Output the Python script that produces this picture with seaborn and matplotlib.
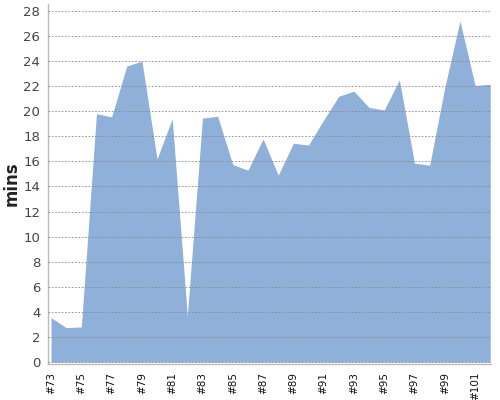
import matplotlib
matplotlib.use("Agg")
import matplotlib.pyplot as plt
import numpy as np
import pandas as pd
import seaborn as sns

episodes = [f"#{n}" for n in range(73, 103)]
minutes = [3.55, 2.75, 2.8, 19.8, 19.55, 23.6, 24.0, 16.2, 19.4, 3.7,
           19.45, 19.6, 15.75, 15.3, 17.8, 14.9, 17.45, 17.3, 19.3, 21.2,
           21.6, 20.3, 20.1, 22.5, 15.85, 15.7, 21.9, 27.2, 22.05, 22.15]
y_ticks = list(range(0, 29, 2))

df = pd.DataFrame({"episode": episodes, "mins": minutes})
df["pos"] = np.arange(len(df))

sns.set_style("white")
plt.rcParams["font.family"] = ["DejaVu Sans"]

fig = plt.figure(figsize=(5, 4), dpi=100)
ax = fig.add_axes([0.096, 0.091, 0.886, 0.899])

sns.lineplot(data=df, x="pos", y="mins", ax=ax, linewidth=0, color="#8fb0d9")
ax.fill_between(df["pos"], 0, df["mins"], color="#8fb0d9", linewidth=0)

ax.set_xlim(-0.2, len(df) - 1 + 0.05)
ax.set_ylim(-0.12, 28.55)
ax.set_yticks(y_ticks)
ax.set_yticklabels([str(t) for t in y_ticks], color="#444444", fontsize=9.5)
ax.set_xticks(df["pos"])
ax.set_xticklabels([lab if i % 2 == 0 else "" for i, lab in enumerate(df["episode"])],
                   rotation=90, fontsize=7.5, color="#111111")
ax.tick_params(axis="x", length=4, width=0.8, color="#aaaaaa", pad=2)
ax.tick_params(axis="y", length=0, pad=5.5)

ax.set_axisbelow(False)
ax.yaxis.grid(True, linestyle=(0, (2, 2)), color="#888888", linewidth=0.6)
ax.xaxis.grid(False)

for side in ["top", "right"]:
    ax.spines[side].set_visible(False)
for side in ["left", "bottom"]:
    ax.spines[side].set_color("#bbbbbb")
    ax.spines[side].set_linewidth(1)

ax.set_xlabel("")
ax.set_ylabel("mins", fontsize=12, fontweight="bold", color="#222222")
ax.yaxis.set_label_coords(-0.062, 0.5)

fig.savefig("out.png", dpi=100)
